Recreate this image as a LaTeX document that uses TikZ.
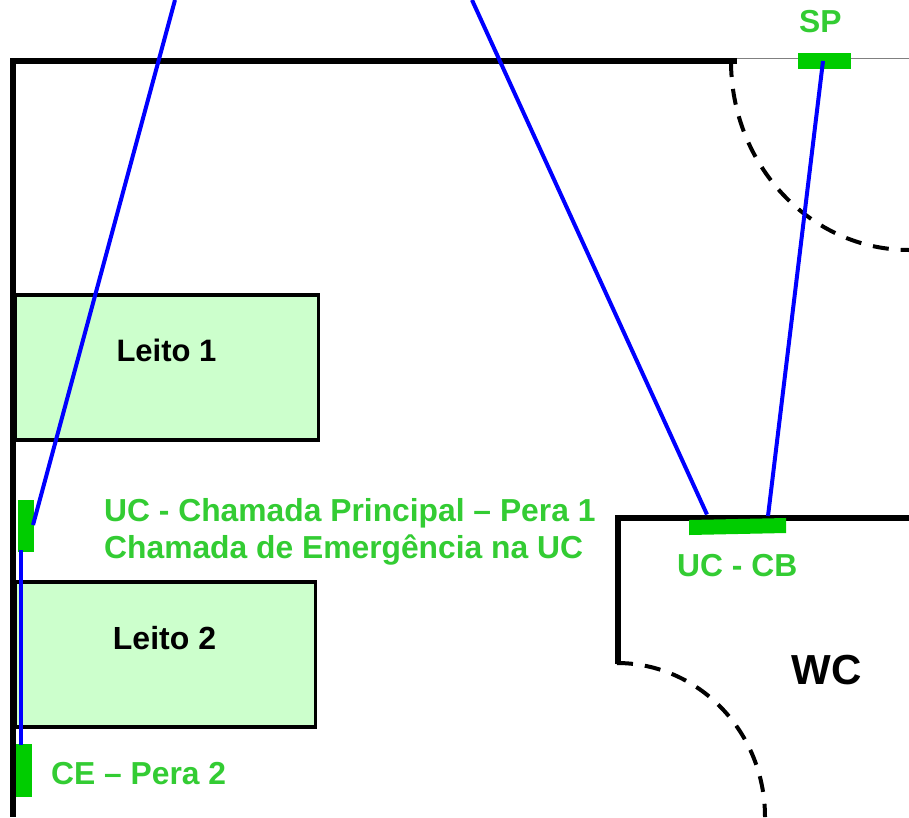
\documentclass[tikz,border=0pt]{standalone}
\usepackage{fontspec}
\setmainfont{Liberation Sans}
\definecolor{barGreen}{HTML}{00CC00}
\definecolor{textGreen}{HTML}{33CC33}
\definecolor{bedGreen}{HTML}{CCFFCC}
\definecolor{wireBlue}{HTML}{0000FF}
\tikzset{
  wall/.style={line width=6pt,line cap=butt},
  bed/.style={draw=black,line width=3.5pt,fill=bedGreen},
  swing/.style={line width=4pt,dash pattern=on 16pt off 12pt},
  wire/.style={wireBlue,line width=4pt},
  bar/.style={fill=barGreen},
  greenlabel/.style={textGreen,font=\bfseries\fontsize{31.8}{38}\selectfont,inner sep=0,anchor=base west,align=left},
  blacklabel/.style={black,font=\bfseries\fontsize{31}{37}\selectfont,inner sep=0,anchor=base}
}
\begin{document}
\begin{tikzpicture}[x=1pt,y=-1pt]
\useasboundingbox (0,0) rectangle (909,817);
% beds
\draw[bed] (15,295) rectangle (318.5,440);
\draw[bed] (15,582) rectangle (315.5,727);
\node[blacklabel] (leito1) at (166.5,361) {Leito 1};
\node[blacklabel,font=\bfseries\fontsize{32}{38}\selectfont] (leito2) at (164.5,649) {Leito 2};
% walls
\draw[gray,line width=1pt] (737,58.5) -- (909,58.5);
\draw[wall] (737,61) -- (13,61) -- (13,817);
\draw[wall] (618,664) -- (618,517.5) -- (909,517.5);
% doors
\draw[swing] (731,61) arc[start angle=180,end angle=270,x radius=178,y radius=-189];
\draw[swing] (617,663) arc[start angle=90,end angle=0,x radius=148,y radius=-154];
% call points
\fill[bar] (798,53) rectangle (851,69);
\fill[bar] (17.5,500) rectangle (33.5,552);
\fill[bar] (15.5,744) rectangle (32,797);
% wires
\coordinate (topA) at (175,0);
\coordinate (topB) at (472,0);
\coordinate (pera1) at (33,525);
\coordinate (pera1low) at (20.7,550);
\coordinate (pera2) at (20.7,745);
\coordinate (cbA) at (707,514.5);
\coordinate (cbB) at (768,516);
\coordinate (spEnd) at (823,61);
\draw[wire] (topA) -- (pera1);
\draw[wire] (topB) -- (cbA);
\draw[wire] (spEnd) -- (cbB);
\draw[wire] (pera1low) -- (pera2);
\fill[bar] (689,520) -- (786,518) -- (786,533) -- (689,535) -- cycle;
% labels
\node[greenlabel] (sp) at (799,32) {SP};
\node[greenlabel] (ucp) at (104,521) {UC - Chamada Principal – Pera 1};
\node[greenlabel] (emerg) at (104,558) {Chamada de Emergência na UC};
\node[greenlabel] (ce) at (51,784) {CE – Pera 2};
\node[greenlabel] (uccb) at (677,576) {UC - CB};
\node[blacklabel,font=\bfseries\fontsize{42}{48}\selectfont] (wc) at (826.5,684) {WC};
\end{tikzpicture}
\end{document}
